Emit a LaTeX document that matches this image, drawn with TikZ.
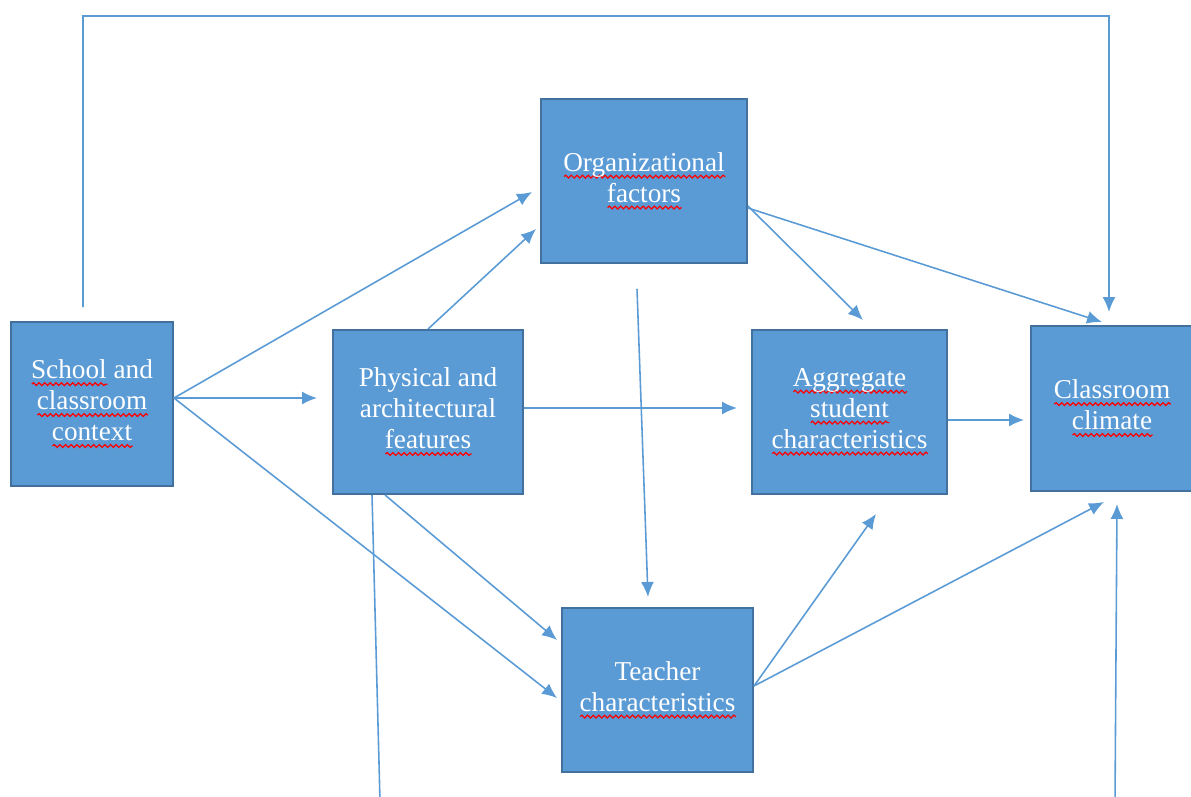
\documentclass[tikz,border=0pt]{standalone}
\usepackage{fontspec}
\setmainfont{Liberation Serif}
\usetikzlibrary{arrows.meta, decorations.pathmorphing}
\definecolor{boxblue}{HTML}{5B9BD5}
\definecolor{boxedge}{HTML}{41719C}
\newsavebox{\wavebox}
\newcommand{\redwave}[1]{\sbox{\wavebox}{#1}\rlap{\tikz[baseline=0pt]\draw[red, line width=0.7pt, decorate, decoration={snake, amplitude=0.8pt, segment length=3.2pt}] (0,-3pt) -- (\wd\wavebox,-3pt);}\usebox{\wavebox}}
\begin{document}
\begin{tikzpicture}[font=\fontsize{15.5}{17.6}\selectfont]
    \tikzstyle{box_style} = [draw=boxedge, line width=1.1pt, fill=boxblue, text=white, align=center, minimum height=3.28cm, inner sep=0pt]
    \tikzstyle{arrow_style} = [->, boxblue, line width=0.9pt, >={Latex[length=3mm, width=2.6mm]}]
    \tikzstyle{line_style} = [-, boxblue, line width=0.9pt]

    \useasboundingbox (0,0) rectangle (23.82,15.92);

    \node[box_style, minimum width=3.24cm] (sc) at (1.84,7.84) {\redwave{School} and\\\redwave{classroom}\\\redwave{context}};
    \node[box_style, minimum width=3.8cm] (pa) at (8.56,7.68) {Physical and\\architectural\\\redwave{features}};
    \node[box_style, minimum width=4.12cm] (of) at (12.88,12.30) {\redwave{Organizational}\\\redwave{factors}};
    \node[box_style, minimum width=3.9cm] (as) at (16.99,7.68) {\redwave{Aggregate}\\\redwave{student}\\\redwave{characteristics}};
    \node[box_style, minimum width=3.24cm, minimum height=3.3cm] (cc) at (22.24,7.75) {\redwave{Classroom}\\\redwave{climate}};
    \node[box_style, minimum width=3.82cm] (tc) at (13.15,2.12) {Teacher\\\redwave{characteristics}};

    \coordinate (pa_exit) at (7.6,-0.1);
    \coordinate (cc_entry) at (22.3,-0.1);

    % feedback line over the top
    \draw[arrow_style] ([xshift=-0.18cm, yshift=0.28cm]sc.north) -- (1.66,15.6) -| ([xshift=-0.06cm, yshift=0.26cm]cc.north);

    \draw[arrow_style] ([yshift=0.12cm]sc.east) -- ([xshift=-0.16cm, yshift=-0.22cm]of.west);
    \draw[arrow_style] ([yshift=0.12cm]sc.east) -- ([xshift=-0.30cm, yshift=0.28cm]pa.west);
    \draw[arrow_style] ([yshift=0.12cm]sc.east) -- ([xshift=-0.08cm, yshift=-0.16cm]tc.west);

    \draw[arrow_style] (pa.north) -- ([xshift=-0.08cm, yshift=-0.96cm]of.west);
    \draw[arrow_style] ([yshift=0.08cm]pa.east) -- ([xshift=-0.28cm, yshift=0.08cm]as.west);
    \draw[arrow_style] ([xshift=-0.86cm]pa.south) -- ([xshift=-0.08cm, yshift=1.0cm]tc.west);
    \draw[line_style] ([xshift=-1.12cm]pa.south) -- (pa_exit);

    \draw[arrow_style] ([xshift=-0.14cm, yshift=-0.5cm]of.south) -- ([xshift=-0.19cm, yshift=0.2cm]tc.north);
    \draw[arrow_style] ([yshift=-0.5cm]of.east) -- ([xshift=0.27cm, yshift=0.18cm]as.north);
    \draw[arrow_style] ([yshift=-0.54cm]of.east) -- ([xshift=-0.2cm, yshift=0.06cm]cc.north);

    \draw[arrow_style] ([yshift=-0.16cm]as.east) -- ([xshift=-0.12cm, yshift=-0.23cm]cc.west);

    \draw[arrow_style] ([yshift=0.08cm]tc.east) -- ([xshift=0.53cm, yshift=-0.38cm]as.south);
    \draw[arrow_style] ([yshift=0.08cm]tc.east) -- ([xshift=-0.16cm, yshift=-0.2cm]cc.south);
    \draw[arrow_style] (cc_entry) -- ([xshift=0.1cm, yshift=-0.24cm]cc.south);
\end{tikzpicture}
\end{document}
